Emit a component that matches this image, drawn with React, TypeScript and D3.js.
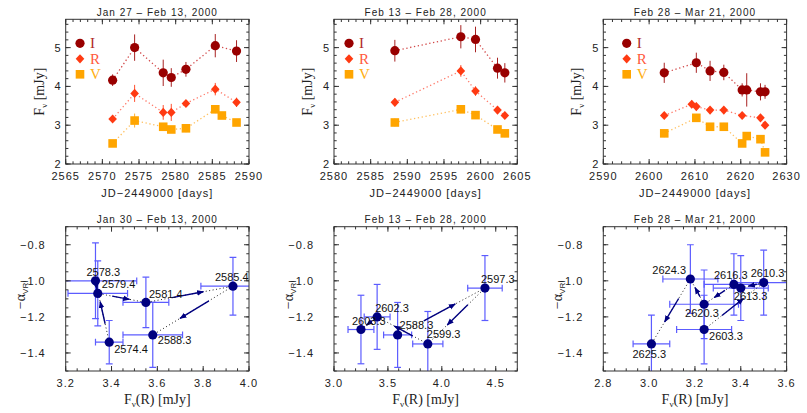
import * as d3 from "d3";

// ---------- light curves (top row) ----------
const topTitles = ["Jan 27 \u2013 Feb 13, 2000", "Feb 13 \u2013 Feb 28, 2000", "Feb 28 \u2013 Mar 21, 2000"];
const dayRanges = [[2565, 2590], [2580, 2605], [2590, 2630]];
const dayMajor = [5, 5, 10];

// Jan 27 - Feb 13
const dayA = [2571.4, 2574.4, 2578.3, 2579.4, 2581.4, 2585.4, 2588.3];
const fluxIA = [4.16, 5.0, 4.35, 4.23, 4.44, 5.05, 4.91];
const errIA = [0.15, 0.34, 0.34, 0.24, 0.19, 0.3, 0.28];
const fluxRA = [3.16, 3.82, 3.33, 3.33, 3.56, 3.93, 3.59];
const errRA = [0.07, 0.22, 0.19, 0.22, 0.08, 0.16, 0.12];
const dayVA = [2571.4, 2574.4, 2578.3, 2579.4, 2581.4, 2585.4, 2586.3, 2588.3];
const fluxVA = [2.53, 3.12, 2.96, 2.89, 2.92, 3.41, 3.25, 3.07];
const errVA = [0.07, 0.18, 0.08, 0.08, 0.1, 0.1, 0.07, 0.09];

// Feb 13 - Feb 28
const dayB = [2588.3, 2597.3, 2599.3, 2602.3, 2603.3];
const fluxIB = [4.92, 5.28, 5.21, 4.47, 4.35];
const errIB = [0.28, 0.3, 0.33, 0.27, 0.25];
const fluxRB = [3.59, 4.4, 3.88, 3.39, 3.25];
const errRB = [0.1, 0.15, 0.12, 0.08, 0.08];
const fluxVB = [3.07, 3.41, 3.26, 2.89, 2.79];
const errVB = [0.1, 0.1, 0.1, 0.09, 0.1];

// Feb 28 - Mar 21
const dayIC = [2603.3, 2610.3, 2613.3, 2616.3, 2620.3, 2621.3, 2624.3, 2625.3];
const fluxIC = [4.35, 4.61, 4.4, 4.36, 3.91, 3.91, 3.86, 3.86];
const errIC = [0.26, 0.26, 0.26, 0.2, 0.17, 0.43, 0.22, 0.18];
const dayRC = [2603.3, 2609.3, 2610.3, 2613.3, 2616.3, 2620.3, 2624.3, 2625.3];
const fluxRC = [3.25, 3.54, 3.48, 3.39, 3.39, 3.25, 3.19, 3.0];
const errRC = [0.08, 0.1, 0.1, 0.08, 0.08, 0.08, 0.08, 0.07];
const dayVC = [2603.3, 2610.3, 2613.3, 2616.3, 2620.3, 2621.3, 2624.3, 2625.3];
const fluxVC = [2.79, 3.19, 2.96, 2.96, 2.53, 2.72, 2.64, 2.3];
const errVC = [0.1, 0.1, 0.08, 0.1, 0.08, 0.1, 0.08, 0.07];

// ---------- colour index vs flux (bottom row) ----------
const botTitles = ["Jan 30 \u2013 Feb 13, 2000", "Feb 13 \u2013 Feb 28, 2000", "Feb 28 \u2013 Mar 21, 2000"];
const fluxRanges = [[3.2, 4.0], [3.0, 4.7], [2.8, 3.6]];
const fluxMajor = [0.2, 0.5, 0.2];

const epochA = ["2574.4", "2578.3", "2579.4", "2581.4", "2585.4", "2588.3"];
const fRA = [3.39, 3.33, 3.34, 3.55, 3.93, 3.58];
const fRerrA = [0.06, 0.18, 0.13, 0.1, 0.14, 0.13];
const alphaA = [-1.34, -1.0, -1.07, -1.12, -1.03, -1.3];
const alphaErrA = [0.12, 0.21, 0.18, 0.14, 0.16, 0.18];

const epochB = ["2588.3", "2597.3", "2599.3", "2602.3", "2603.3"];
const fRB = [3.59, 4.4, 3.87, 3.4, 3.25];
const fRerrB = [0.13, 0.16, 0.14, 0.12, 0.12];
const alphaB = [-1.3, -1.04, -1.35, -1.2, -1.27];
const alphaErrB = [0.18, 0.18, 0.18, 0.18, 0.19];

const epochC = ["2603.3", "2610.3", "2613.3", "2616.3", "2620.3", "2624.3", "2625.3"];
const fRC = [3.24, 3.5, 3.4, 3.37, 3.24, 3.18, 3.01];
const fRerrC = [0.12, 0.14, 0.12, 0.13, 0.15, 0.12, 0.08];
const alphaC = [-1.27, -1.01, -1.04, -1.02, -1.13, -0.99, -1.35];
const alphaErrC = [0.19, 0.18, 0.18, 0.17, 0.19, 0.19, 0.16];

// where each epoch label sits relative to its point (text start, text middle)
const labelOffA = [[5, 7], [-9, -9], [4, -9], [3, -8], [-18, -9], [5, 5]];
const labelOffB = [[2, -10], [-4, -9], [-1, -10], [-2, -9], [-9, -9]];
const labelOffC = [[5, 6], [-13, -10], [-7, 8], [-20, -9], [-19, 9], [-38, -9], [-19, 10]];

// ---------- layout ----------
const BOX_X = [65.7, 334, 603.3];
const BOX_W = 183.3;
const TOP = [19.3, 164];
const BOT = [226.7, 371];

const markerCol = { I: "#990000", R: "#ff3a12", V: "#ffa500" };
const errCol = { I: "#a82222", R: "#ff5030", V: "#ffb030" };
const dotCol = { I: "#d24848", R: "#ff7a6a", V: "#ffc060" };
const legendCol = { I: "#b02a2a", R: "#ff5a3c", V: "#ffae10" };
const legendDx = [14.3, 15, 23.4];

const sans = "'Liberation Sans', Arial, Helvetica, sans-serif";
const serif = "'Liberation Serif', 'Times New Roman', serif";
const navy = "#000080";
const barBlue = "#5c5cff";

function tickVals(lo, hi, step) {
    const out = [];
    for (let k = Math.ceil(lo / step - 1e-6); k * step <= hi + 1e-6; k++) out.push(+(k * step).toFixed(6));
    return out;
}

function Frame({ xs, ys, xMaj, xMin, yMaj, yMin, xFmt, yFmt, yLabRight, tickBase }) {
    const [x0, x1] = xs.range();
    const [y1, y0] = ys.range();
    const [dx0, dx1] = xs.domain();
    const [dy0, dy1] = ys.domain();
    const big = 5, small = 2.7;
    return (
        <g>
            {tickVals(dx0, dx1, xMin).map((v) => (
                <g key={"xm" + v}>
                    <line x1={xs(v)} x2={xs(v)} y1={y1} y2={y1 - small} stroke="#333" />
                    <line x1={xs(v)} x2={xs(v)} y1={y0} y2={y0 + small} stroke="#333" />
                </g>
            ))}
            {tickVals(dy0, dy1, yMin).map((v) => (
                <g key={"ym" + v}>
                    <line x1={x0} x2={x0 + small} y1={ys(v)} y2={ys(v)} stroke="#333" />
                    <line x1={x1} x2={x1 - small} y1={ys(v)} y2={ys(v)} stroke="#333" />
                </g>
            ))}
            {tickVals(dx0, dx1, xMaj).map((v) => (
                <g key={"xM" + v}>
                    <line x1={xs(v)} x2={xs(v)} y1={y1} y2={y1 - big} stroke="#333" />
                    <line x1={xs(v)} x2={xs(v)} y1={y0} y2={y0 + big} stroke="#333" />
                    <text x={xs(v)} y={tickBase} textAnchor="middle" fontFamily={sans} fontSize={11}
                        letterSpacing={1} fill="#222">{xFmt(v)}</text>
                </g>
            ))}
            {tickVals(dy0, dy1, yMaj).map((v) => (
                <g key={"yM" + v}>
                    <line x1={x0} x2={x0 + big} y1={ys(v)} y2={ys(v)} stroke="#333" />
                    <line x1={x1} x2={x1 - big} y1={ys(v)} y2={ys(v)} stroke="#333" />
                    <text x={yLabRight} y={ys(v)} textAnchor="end" dominantBaseline="central"
                        fontFamily={sans} fontSize={11} letterSpacing={1} fill="#222">{yFmt(v)}</text>
                </g>
            ))}
            <rect x={x0} y={y0} width={x1 - x0} height={y1 - y0} fill="none" stroke="#333" />
        </g>
    );
}

function Marker({ band, x, y }) {
    const c = markerCol[band];
    if (band === "I") return <circle cx={x} cy={y} r={4.6} fill={c} />;
    if (band === "R") return <path d={`M${x},${y - 4.6}L${x + 4.3},${y}L${x},${y + 4.6}L${x - 4.3},${y}Z`} fill={c} />;
    return <rect x={x - 4.3} y={y - 4.3} width={8.6} height={8.6} fill={c} />;
}

const lightCurves = [
    [
        { band: "I", days: dayA, flux: fluxIA, err: errIA },
        { band: "R", days: dayA, flux: fluxRA, err: errRA },
        { band: "V", days: dayVA, flux: fluxVA, err: errVA },
    ],
    [
        { band: "I", days: dayB, flux: fluxIB, err: errIB },
        { band: "R", days: dayB, flux: fluxRB, err: errRB },
        { band: "V", days: dayB, flux: fluxVB, err: errVB },
    ],
    [
        { band: "I", days: dayIC, flux: fluxIC, err: errIC },
        { band: "R", days: dayRC, flux: fluxRC, err: errRC },
        { band: "V", days: dayVC, flux: fluxVC, err: errVC },
    ],
];

function LightCurve({ i }) {
    const x0 = BOX_X[i];
    const xs = d3.scaleLinear().domain(dayRanges[i]).range([x0, x0 + BOX_W]);
    const ys = d3.scaleLinear().domain([2, 5.73]).range([TOP[1], TOP[0]]);
    const line = d3.line().x((d) => xs(d[0])).y((d) => ys(d[1]));
    const cx = x0 + BOX_W / 2;
    return (
        <g>
            <text x={cx} y={16} textAnchor="middle" fontFamily={sans} fontSize={10} letterSpacing={1}
                fill="#222">{topTitles[i]}</text>
            <Frame xs={xs} ys={ys} xMaj={dayMajor[i]} xMin={dayMajor[i] / 5} yMaj={1} yMin={0.2}
                xFmt={d3.format("d")} yFmt={d3.format("d")} yLabRight={x0 - 4} tickBase={180} />
            <text x={cx} y={197} textAnchor="middle" fontFamily={sans} fontSize={11} letterSpacing={1}
                fill="#222">JD{"\u2212"}2449000 [days]</text>
            <text transform={`translate(${x0 - 22},${(TOP[0] + TOP[1]) / 2}) rotate(-90)`} textAnchor="middle"
                fontFamily={serif} fontSize={14} fill="#222">
                F<tspan fontSize={9} dy={3}>{"\u03bd"}</tspan><tspan dy={-3}> [mJy]</tspan>
            </text>
            {lightCurves[i].map((s) => (
                <path key={"l" + s.band} d={line(s.days.map((d, k) => [d, s.flux[k]]))} fill="none"
                    stroke={dotCol[s.band]} strokeWidth={1.3} strokeDasharray="1.3,2.6" />
            ))}
            {lightCurves[i].map((s) => s.days.map((d, k) => (
                <line key={"e" + s.band + k} x1={xs(d)} x2={xs(d)} y1={ys(s.flux[k] - s.err[k])}
                    y2={ys(s.flux[k] + s.err[k])} stroke={errCol[s.band]} strokeWidth={1} />
            )))}
            {lightCurves[i].map((s) => s.days.map((d, k) => (
                <Marker key={"m" + s.band + k} band={s.band} x={xs(d)} y={ys(s.flux[k])} />
            )))}
            {["I", "R", "V"].map((b, k) => (
                <g key={"lg" + b}>
                    <Marker band={b} x={x0 + legendDx[i]} y={43.3 + k * 15.5} />
                    <text x={x0 + legendDx[i] + 10} y={43.3 + k * 15.5 + 5} fontFamily={serif} fontSize={15}
                        fill={legendCol[b]}>{b}</text>
                </g>
            ))}
        </g>
    );
}

const colourPanels = [
    { epoch: epochA, f: fRA, fe: fRerrA, a: alphaA, ae: alphaErrA, off: labelOffA },
    { epoch: epochB, f: fRB, fe: fRerrB, a: alphaB, ae: alphaErrB, off: labelOffB },
    { epoch: epochC, f: fRC, fe: fRerrC, a: alphaC, ae: alphaErrC, off: labelOffC },
];

function ColourPanel({ i }) {
    const x0 = BOX_X[i];
    const p = colourPanels[i];
    const xs = d3.scaleLinear().domain(fluxRanges[i]).range([x0, x0 + BOX_W]);
    const ys = d3.scaleLinear().domain([-1.5, -0.7]).range([BOT[1], BOT[0]]);
    const cx = x0 + BOX_W / 2;
    const cap = 3.4;
    const pts = p.f.map((f, k) => [xs(f), ys(p.a[k])]);
    return (
        <g>
            <defs>
                <clipPath id={"clip" + i}>
                    <rect x={x0} y={BOT[0]} width={BOX_W} height={BOT[1] - BOT[0]} />
                </clipPath>
            </defs>
            <text x={cx} y={222.5} textAnchor="middle" fontFamily={sans} fontSize={10} letterSpacing={1}
                fill="#222">{botTitles[i]}</text>
            <g clipPath={`url(#clip${i})`}>
                {p.f.map((f, k) => {
                    const xl = xs(f - p.fe[k]), xr = xs(f + p.fe[k]);
                    const yb = ys(p.a[k] - p.ae[k]), yt = ys(p.a[k] + p.ae[k]);
                    const [px, py] = pts[k];
                    return (
                        <g key={"eb" + k} stroke={barBlue} strokeWidth={1.2}>
                            <line x1={xl} x2={xr} y1={py} y2={py} />
                            <line x1={xl} x2={xl} y1={py - cap} y2={py + cap} />
                            <line x1={xr} x2={xr} y1={py - cap} y2={py + cap} />
                            <line x1={px} x2={px} y1={yt} y2={yb} />
                            <line x1={px - cap} x2={px + cap} y1={yt} y2={yt} />
                            <line x1={px - cap} x2={px + cap} y1={yb} y2={yb} />
                        </g>
                    );
                })}
            </g>
            <path d={d3.line()(pts)} fill="none" stroke="#222" strokeWidth={1} strokeDasharray="1,2.5" />
            {pts.slice(1).map((q, k) => {
                const [ax, ay] = pts[k];
                const t0 = 0.3, t1 = 0.66;
                return (
                    <line key={"ar" + k} x1={ax + (q[0] - ax) * t0} y1={ay + (q[1] - ay) * t0}
                        x2={ax + (q[0] - ax) * t1} y2={ay + (q[1] - ay) * t1} stroke={navy} strokeWidth={1.4}
                        markerEnd="url(#arrowHead)" />
                );
            })}
            {pts.map(([px, py], k) => <circle key={"pt" + k} cx={px} cy={py} r={4.6} fill={navy} />)}
            {pts.map(([px, py], k) => (
                <text key={"lb" + k} x={px + p.off[k][0]} y={py + p.off[k][1]} dominantBaseline="central"
                    fontFamily={sans} fontSize={11} fill="#111">{p.epoch[k]}</text>
            ))}
            <Frame xs={xs} ys={ys} xMaj={fluxMajor[i]} xMin={fluxMajor[i] === 0.5 ? 0.1 : 0.05} yMaj={0.2}
                yMin={0.05} xFmt={d3.format(".1f")} yFmt={d3.format(".1f")} yLabRight={x0 - 20} tickBase={387} />
            <text x={cx} y={404} textAnchor="middle" fontFamily={serif} fontSize={14} fill="#222">
                F<tspan fontSize={9} dy={3}>{"\u03bd"}</tspan><tspan dy={-3}>(R) [mJy]</tspan>
            </text>
            <text transform={`translate(${x0 - 41},${(BOT[0] + BOT[1]) / 2 - 4}) rotate(-90)`} textAnchor="middle"
                fontFamily={serif} fontSize={14} fill="#222">
                {"\u2212\u03b1"}<tspan fontFamily={sans} fontSize={8} dy={3}>VRI</tspan>
            </text>
        </g>
    );
}

export default function App() {
    return (
        <svg width={807} height={413} style={{ position: "absolute", left: 0, top: 0, background: "#fff" }}>
            <defs>
                <marker id="arrowHead" viewBox="0 0 10 10" refX="9" refY="5" markerWidth="7" markerHeight="7"
                    markerUnits="userSpaceOnUse" orient="auto">
                    <path d="M0,1 L10,5 L0,9 z" fill={navy} />
                </marker>
            </defs>
            {[0, 1, 2].map((i) => <LightCurve key={"t" + i} i={i} />)}
            {[0, 1, 2].map((i) => <ColourPanel key={"b" + i} i={i} />)}
        </svg>
    );
}
